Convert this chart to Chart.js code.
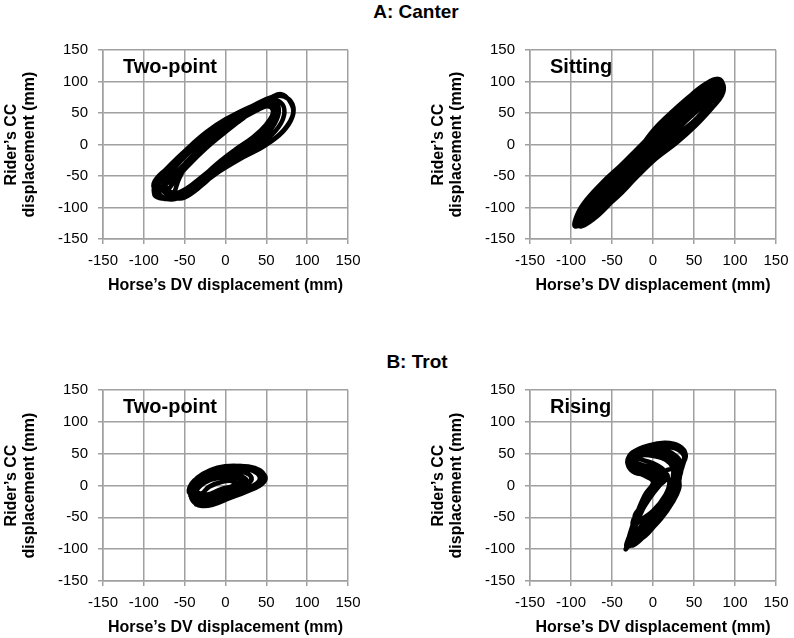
<!DOCTYPE html>
<html>
<head>
<meta charset="utf-8">
<script src="https://cdn.jsdelivr.net/npm/chart.js@4.4.1/dist/chart.umd.min.js"></script>
<style>
  body { margin: 0; background: #fff; overflow: hidden; }
  #page { position: relative; width: 794px; height: 638px; overflow: hidden; font-family: "Liberation Sans", Arial, sans-serif; }
  canvas { position: absolute; }
  .section { position: absolute; width: 200px; text-align: center; font-weight: bold; font-size: 19px; line-height: 22px; color: #000; }
</style>
</head>
<body>
<div id="page">
  <div class="section" style="left:316px; top:1px;">A: Canter</div>
  <div class="section" style="left:317px; top:351px;">B: Trot</div>
  <canvas id="canterTwoPoint" width="397" height="264" style="left:0; top:31px;"></canvas>
  <canvas id="canterSitting" width="380" height="264" style="left:427px; top:31px;"></canvas>
  <canvas id="trotTwoPoint" width="397" height="266" style="left:0; top:371px;"></canvas>
  <canvas id="trotRising" width="380" height="266" style="left:427px; top:371px;"></canvas>
</div>
<script>
// axis ticks (mm), same on both axes of every panel
const axisTicks = [-150, -100, -50, 0, 50, 100, 150];

// loops, [horse DV, rider CC] in mm
const canterTwoPoint = [
  [[-88,-72],[-86,-82],[-72,-86],[-48,-78],[-23,-57],[0,-36],[26,-16],[50,0],[72,24],[83,50],[78,70],[68,80],[56,75],[29,58],[0,40],[-23,20],[-48,-8],[-72,-38],[-88,-62]],
  [[-82,-80],[-70,-86],[-48,-74],[-22,-52],[2,-30],[28,-10],[52,10],[68,34],[72,56],[64,70],[50,70],[24,52],[-2,34],[-28,10],[-52,-18],[-72,-46],[-83,-68]],
  [[-76,-84],[-60,-86],[-38,-68],[-14,-44],[10,-20],[34,0],[54,22],[64,44],[64,62],[54,68],[36,58],[10,40],[-16,18],[-42,-10],[-64,-40],[-76,-66]],
  [[-66,-76],[-54,-78],[-34,-58],[-10,-30],[12,-8],[34,12],[50,32],[58,50],[54,60],[42,58],[22,42],[0,20],[-24,-6],[-46,-34],[-62,-58]],
  [[-72,-80],[-58,-84],[-36,-64],[-12,-38],[10,-14],[32,6],[52,28],[60,48],[58,62],[46,64],[26,50],[2,28],[-24,2],[-48,-28],[-66,-56]],
  [[-86,-76],[-76,-86],[-56,-82],[-30,-62],[-4,-40],[22,-20],[48,-2],[70,20],[82,44],[82,64],[72,76],[58,76],[34,62],[6,44],[-20,22],[-46,-6],[-70,-36],[-84,-60]],
  [[-78,-72],[-68,-80],[-48,-70],[-24,-46],[0,-22],[24,-2],[46,18],[60,38],[62,56],[54,62],[38,54],[14,36],[-12,12],[-38,-16],[-60,-44],[-74,-62]],
  [[-60,-84],[-50,-84],[-30,-66],[-6,-38],[18,-14],[40,8],[56,30],[62,50],[58,64],[48,66],[30,54],[6,34],[-18,8],[-42,-22],[-56,-52],[-62,-74]]
];

const canterSitting = [
  [[-94,-128],[-90,-112],[-76,-88],[-50,-55],[-24,-20],[0,22],[25,54],[50,82],[68,98],[80,104],[85,96],[82,82],[68,64],[50,36],[25,8],[0,-18],[-25,-50],[-50,-84],[-72,-112],[-86,-127]],
  [[-90,-124],[-84,-108],[-70,-86],[-48,-58],[-24,-26],[0,10],[24,42],[46,70],[64,88],[76,98],[80,90],[74,76],[56,56],[36,32],[14,2],[-8,-26],[-32,-58],[-54,-88],[-74,-114]],
  [[-86,-120],[-78,-102],[-62,-78],[-40,-48],[-18,-18],[4,12],[26,40],[48,66],[66,84],[76,92],[74,82],[62,66],[42,46],[22,22],[2,-4],[-20,-36],[-42,-68],[-64,-98],[-80,-116]],
  [[-92,-126],[-82,-116],[-66,-94],[-44,-64],[-20,-30],[2,2],[22,30],[42,56],[62,80],[74,94],[82,100],[84,90],[76,80],[60,62],[44,44],[24,18],[4,-10],[-18,-40],[-40,-72],[-62,-102],[-80,-122]],
  [[-84,-114],[-72,-98],[-56,-74],[-36,-46],[-14,-14],[8,16],[30,44],[52,72],[68,88],[72,82],[64,70],[48,52],[30,30],[10,4],[-10,-24],[-32,-54],[-56,-86],[-76,-110]],
  [[-88,-126],[-76,-110],[-58,-84],[-38,-56],[-16,-24],[6,6],[28,34],[50,62],[70,86],[80,96],[78,86],[66,70],[50,50],[32,28],[12,0],[-12,-30],[-34,-62],[-58,-94],[-78,-118]],
  [[-95,-130],[-92,-110],[-80,-86],[-60,-58],[-40,-34],[-20,-8],[0,18],[22,46],[45,74],[65,94],[78,104],[84,98],[82,84],[70,66],[52,40],[30,16],[8,-10],[-14,-38],[-34,-66],[-54,-96],[-72,-118],[-88,-130]],
  [[-90,-120],[-80,-100],[-62,-72],[-40,-42],[-18,-12],[2,16],[24,50],[46,78],[64,96],[78,104],[86,94],[84,78],[72,58],[52,30],[28,2],[4,-22],[-20,-52],[-44,-84],[-66,-108],[-84,-122]]
];

const trotTwoPoint = [
  [[-44,-8],[-40,5],[-28,18],[-10,28],[10,31],[30,28],[45,20],[49,10],[42,0],[25,-10],[5,-20],[-15,-30],[-30,-32],[-40,-24]],
  [[-42,-12],[-36,2],[-22,15],[-2,25],[18,28],[34,23],[42,13],[38,3],[22,-6],[2,-16],[-18,-26],[-32,-27]],
  [[-40,-4],[-32,9],[-16,19],[4,23],[22,21],[32,12],[26,1],[8,-9],[-12,-20],[-28,-22],[-38,-14]],
  [[-43,-16],[-36,-2],[-22,10],[-4,18],[12,19],[22,11],[14,0],[-4,-12],[-20,-24],[-34,-29]],
  [[-36,-10],[-26,4],[-10,12],[6,12],[12,4],[2,-8],[-14,-18],[-28,-20]],
  [[-38,-6],[-26,8],[-8,16],[14,16],[26,8],[20,-2],[2,-12],[-18,-22],[-32,-18]],
  [[-42,-10],[-38,4],[-26,16],[-6,26],[16,30],[36,26],[46,16],[44,6],[30,-4],[10,-14],[-10,-26],[-28,-30],[-40,-22]],
  [[-40,-14],[-32,0],[-18,12],[0,20],[18,22],[30,16],[30,6],[16,-2],[-2,-12],[-20,-22],[-34,-24]],
  [[-34,-4],[-24,6],[-8,12],[8,14],[18,8],[10,0],[-6,-6],[-22,-14],[-32,-12]],
  [[-30,-14],[-20,-2],[-4,6],[10,6],[8,-2],[-8,-12],[-24,-20]],
  [[-44,-12],[-42,2],[-32,14],[-14,24],[8,30],[28,30],[42,24],[48,14],[46,6],[34,-2],[16,-10],[-4,-22],[-22,-32],[-36,-30]]
];

const trotRising = [
  [[-33,-100],[-28,-75],[-20,-45],[-10,-15],[0,5],[-10,15],[-25,25],[-30,40],[-25,52],[-5,63],[15,67],[32,62],[40,48],[35,32],[25,20],[28,5],[22,-20],[5,-50],[-15,-78]],
  [[-30,-95],[-25,-65],[-15,-35],[-5,-10],[5,8],[-5,18],[-20,22],[-28,35],[-22,48],[-5,52],[10,48],[20,38],[25,25],[28,10],[25,-10],[12,-38],[-5,-65],[-25,-90]],
  [[-28,-80],[-22,-55],[-12,-28],[0,0],[10,15],[0,25],[-15,30],[-25,42],[-18,50],[0,50],[15,45],[25,35],[30,20],[30,0],[20,-25],[5,-50],[-15,-72]],
  [[-25,-60],[-15,-35],[-5,-10],[5,10],[-5,22],[-20,35],[-28,45],[-15,55],[5,57],[22,52],[30,40],[25,28],[15,22],[20,5],[15,-15],[0,-40],[-20,-60]],
  [[-30,-85],[-20,-50],[-8,-20],[5,5],[15,20],[5,32],[-12,40],[-22,45],[-10,48],[10,45],[25,38],[32,25],[32,8],[25,-15],[10,-45],[-10,-70]],
  [[-32,-96],[-26,-70],[-16,-40],[-6,-12],[2,6],[-8,16],[-22,20],[-30,30],[-30,44],[-20,54],[0,60],[20,60],[34,54],[38,42],[32,30],[30,15],[30,-5],[22,-30],[4,-60],[-16,-84]],
  [[-26,-70],[-16,-45],[-4,-20],[8,0],[18,14],[10,24],[-6,30],[-20,36],[-26,46],[-12,52],[6,52],[20,46],[30,34],[32,16],[28,-5],[18,-28],[0,-52]],
  [[-22,-50],[-12,-28],[-2,-6],[10,10],[0,18],[-14,24],[-24,32],[-28,42],[-18,48],[2,46],[16,40],[24,28],[24,12],[20,-8],[10,-30],[-6,-48]],
  [[-33,-100],[-26,-80],[-20,-60],[-12,-36],[-2,-12],[6,6],[-4,16],[-18,22],[-28,34],[-26,46],[-10,56],[10,62],[28,58],[38,46],[36,30],[32,14],[32,-4],[24,-26],[10,-52],[-8,-76],[-24,-94]],
  [[-30,-90],[-24,-68],[-16,-46],[-8,-24],[2,-4],[12,8],[2,20],[-14,26],[-26,38],[-22,48],[-6,54],[12,54],[26,48],[34,36],[34,20],[28,0],[16,-22],[2,-44],[-14,-66]]
];

const fontFamily = '"Liberation Sans", Arial, sans-serif';
const gridGrey = '#a0a0a0';

// draws the small label in the upper left of the plot
const panelLabel = {
  id: 'panelLabel',
  afterDatasetsDraw(chart, args, opts) {
    const { ctx, chartArea } = chart;
    ctx.save();
    ctx.font = 'bold 20px ' + fontFamily;
    ctx.fillStyle = '#000';
    ctx.textBaseline = 'middle';
    ctx.textAlign = 'left';
    ctx.fillText(opts.text, chartArea.left + 20, chartArea.top + 17);
    ctx.restore();
  }
};

function makePanel(id, loops, label, rightPad) {
  const points = [];
  loops.forEach((loop) => loop.forEach((p) => points.push({ x: p[0], y: p[1] })));

  const axis = (title) => ({
    type: 'linear',
    min: axisTicks[0],
    max: axisTicks[axisTicks.length - 1],
    afterBuildTicks: (scale) => { scale.ticks = axisTicks.map((v) => ({ value: v })); },
    grid: { color: gridGrey, lineWidth: 1.5, tickLength: 5, tickColor: gridGrey },
    border: { color: gridGrey, width: 1.5 },
    ticks: { color: '#000', font: { family: fontFamily, size: 15 } },
    title: {
      display: true,
      text: title,
      color: '#000',
      font: { family: fontFamily, size: 16, weight: 'bold', lineHeight: 1.1 },
      padding: { top: 3, bottom: 0 }
    }
  });

  const x = axis('Horse’s DV displacement (mm)');
  x.position = 'bottom';
  x.ticks.padding = 8;
  x.ticks.maxRotation = 0;
  x.title.font.lineHeight = 1.2;
  x.title.padding = { top: 0, bottom: 0 };
  x.afterFit = (scale) => { scale.height = 56; };

  const y = axis(['Rider’s CC', 'displacement (mm)']);
  y.position = 'left';
  y.ticks.padding = 10;
  y.afterFit = (scale) => { scale.width = 103; };

  return new Chart(document.getElementById(id), {
    type: 'scatter',
    data: {
      datasets: [{
        data: points,
        showLine: true,
        borderColor: '#000',
        borderWidth: 4.5,
        tension: 0.4,
        pointRadius: 0,
        borderCapStyle: 'round',
        borderJoinStyle: 'round',
        fill: false
      }]
    },
    options: {
      responsive: false,
      animation: false,
      devicePixelRatio: 1,
      layout: { padding: { left: 0, top: 19, right: rightPad, bottom: 0 } },
      scales: { x: x, y: y },
      plugins: {
        legend: { display: false },
        tooltip: { enabled: false },
        panelLabel: { text: label }
      }
    },
    plugins: [panelLabel]
  });
}

makePanel('canterTwoPoint', canterTwoPoint, 'Two-point', 49);
makePanel('canterSitting', canterSitting, 'Sitting', 31);
makePanel('trotTwoPoint', trotTwoPoint, 'Two-point', 49);
makePanel('trotRising', trotRising, 'Rising', 31);
</script>
</body>
</html>
